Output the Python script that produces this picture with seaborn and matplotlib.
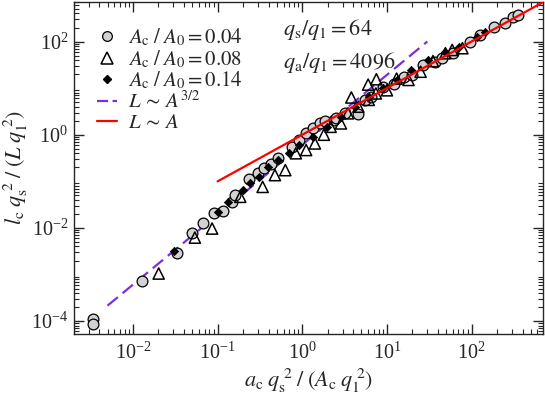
import numpy as np
import pandas as pd
import seaborn as sns
import matplotlib.pyplot as plt
from matplotlib.lines import Line2D

# scaled data
circ_x = [0.0034, 0.0034, 0.0128, 0.033, 0.050, 0.067, 0.091, 0.116, 0.148, 0.16, 0.233,
          0.296, 0.357, 0.432, 0.522, 0.76, 0.92, 1.11, 1.35, 1.62, 1.87, 2.35, 2.5, 3.2,
          4.6, 5.5, 6.5, 8.9, 12, 15.7, 20, 26.5, 36.8, 45, 60, 95, 126, 184, 245, 310, 357]
circ_y = [1.13e-4, 8.5e-5, 7.2e-4, 2.96e-3, 7.6e-3, 0.0128, 0.0214, 0.0232, 0.0357, 0.052, 0.111,
          0.148, 0.189, 0.241, 0.31, 0.55, 0.77, 1.07, 1.37, 1.75, 2.0, 2.07, 2.3, 3.0,
          2.73, 5.5, 6.3, 10.7, 12, 17.7, 19, 31.3, 37, 45, 58, 100, 139, 209, 254, 330, 371]

tri_x = [0.0201, 0.0538, 0.086, 0.185, 0.34, 0.475, 0.63, 0.84, 1.11, 1.41, 1.8, 2.16, 2.86,
         3.47, 3.8, 4.6, 6.0, 6.1, 7.4, 7.5, 10, 13, 18, 25, 35, 49, 59, 78]
tri_y = [1.05e-3, 6.2e-3, 9.7e-3, 0.0465, 0.076, 0.136, 0.174, 0.40, 0.47, 0.65, 1.0, 1.48, 1.75,
         2.88, 6.3, 4.0, 11.9, 5.6, 7.7, 15.5, 9.0, 16, 15, 22.5, 38, 56, 66, 72]

dia_x = [0.0305, 0.1, 0.132, 0.202, 0.244, 0.31, 0.39, 0.52, 0.69, 0.92, 1.35, 1.96, 2.87,
         4.18, 6.1, 8.9, 13, 19, 30.5, 49, 72, 115, 145]
dia_y = [3.2e-3, 0.0221, 0.036, 0.065, 0.093, 0.125, 0.20, 0.29, 0.40, 0.60, 0.91, 1.48, 2.44,
         4.0, 6.6, 9.9, 15, 24.5, 40, 60, 77, 127, 162]

# guide lines (end points)
dash_x = [0.005, 30]
dash_y = [2.15e-4, 100]
red_x = [0.1, 700]
red_y = [0.1, 700]

sns.set_style("ticks")
plt.rcParams['font.family'] = ['Liberation Serif', 'DejaVu Serif']
plt.rcParams['mathtext.fontset'] = 'stix'

fig = plt.figure(figsize=(5.45, 3.99), dpi=100)
ax = fig.add_axes([0.1355, 0.162, 0.861, 0.834])

purple = '#7b30d8'
sns.lineplot(x=dash_x, y=dash_y, ax=ax, color=purple, lw=1.6, dashes=(6, 2.8), zorder=2)
sns.lineplot(x=red_x, y=red_y, ax=ax, color='red', lw=1.6, zorder=4)

sns.scatterplot(x=circ_x, y=circ_y, ax=ax, marker='o', s=60, color='#d2d2d2',
                edgecolor='black', linewidth=0.9, zorder=3)
sns.scatterplot(x=tri_x, y=tri_y, ax=ax, marker='^', s=65, color='none',
                edgecolor='black', linewidth=1.1, zorder=3)
sns.scatterplot(x=dia_x, y=dia_y, ax=ax, marker='D', s=18, color='black',
                edgecolor='black', linewidth=0.5, zorder=3)

ax.set_xscale('log')
ax.set_yscale('log')
ax.set_xlim(2e-3, 700)
ax.set_ylim(5.2e-5, 720)

ax.tick_params(which='both', direction='in', top=True, right=True, labelsize=14.5)
ax.tick_params(which='major', length=7.5, width=1, pad=4)
ax.tick_params(which='minor', length=3.8, width=0.8)
ax.tick_params(axis='x', which='major', pad=6)
for s in ax.spines.values():
    s.set_linewidth(1.0)
ax.set_xticks([1e-2, 1e-1, 1, 10, 100])
ax.set_yticks([1e-4, 1e-2, 1, 100])

ax.set_xlabel(r'$a_{\rm c}\; q_{\rm s}^{\;2}\; /\; (A_{\rm c}\; q_1^{\;2})$', fontsize=16, labelpad=2)
ax.set_ylabel(r'$l_{\rm c}\; q_{\rm s}^{\;2}\; /\; (L\; q_1^{\;2})$', fontsize=16, labelpad=1)

handles = [
    Line2D([], [], ls='none', marker='o', ms=7, mfc='#d2d2d2', mec='black', mew=0.9),
    Line2D([], [], ls='none', marker='^', ms=8, mfc='none', mec='black', mew=1.1),
    Line2D([], [], ls='none', marker='D', ms=4.5, mfc='black', mec='black'),
    Line2D([], [], color=purple, lw=1.6, dashes=(5, 2)),
    Line2D([], [], color='red', lw=1.6),
]
labels = [r'$A_{\rm c}\;/\;A_0 = 0.04$', r'$A_{\rm c}\;/\;A_0 = 0.08$',
          r'$A_{\rm c}\;/\;A_0 = 0.14$', r'$L\,\sim\,A^{3/2}$', r'$L\,\sim\,A$']
ax.legend(handles, labels, loc='upper left', bbox_to_anchor=(0.049, 0.925), frameon=False,
          fontsize=15, handlelength=0.96, labelspacing=0.0, borderaxespad=0,
          handletextpad=0.55, borderpad=0)

ax.text(0.445, 0.915, r'$q_{\rm s}/q_1 = 64$', transform=ax.transAxes, fontsize=16, va='center')
ax.text(0.445, 0.816, r'$q_{\rm a}/q_1 = 4096$', transform=ax.transAxes, fontsize=16, va='center')

fig.savefig('out.png', dpi=100)
